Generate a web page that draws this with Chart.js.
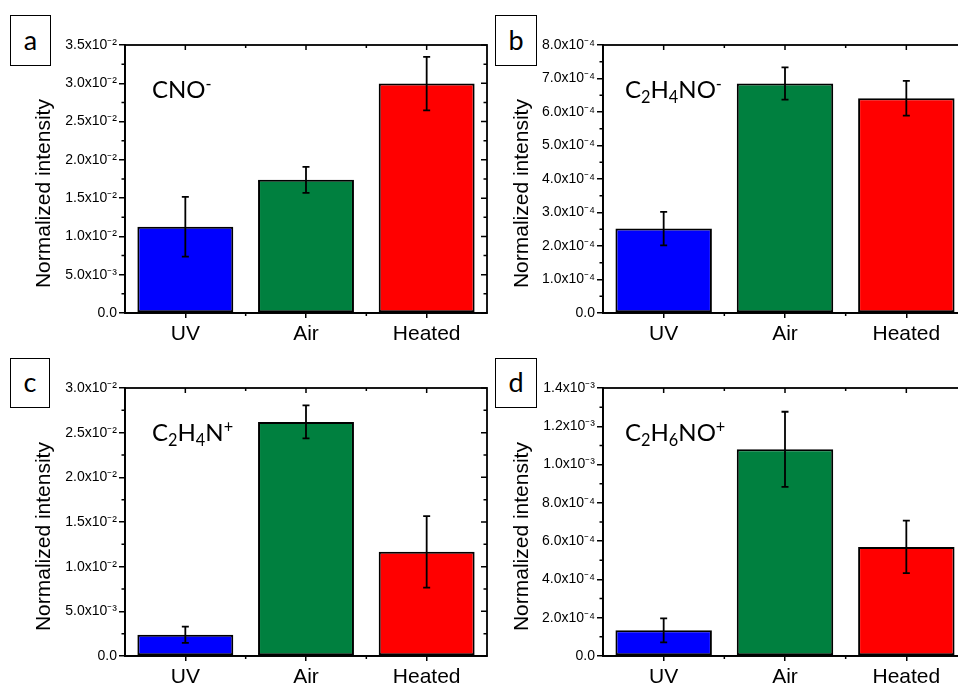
<!DOCTYPE html>
<html>
<head>
<meta charset="utf-8">
<script src="https://cdn.jsdelivr.net/npm/chart.js@4/dist/chart.umd.min.js"></script>
<style>
html,body{margin:0;padding:0;background:#fff;}
body{width:958px;height:685px;overflow:hidden;position:relative;}
canvas.pane{position:absolute;}
.letter{position:absolute;border:1.5px solid #000;box-sizing:border-box;background:#fff;
  font-family:Lato,"Open Sans",sans-serif;font-size:27px;color:#000;
  display:flex;align-items:center;justify-content:center;line-height:1;padding-bottom:3px;}
.species{position:absolute;font-family:Lato,"Open Sans",sans-serif;font-size:24px;line-height:24px;color:#000;white-space:nowrap;}
.species sub{font-size:0.68em;vertical-align:-0.28em;line-height:0;}
.species sup{font-size:0.68em;vertical-align:0.5em;line-height:0;}
</style>
</head>
<body>
<canvas id="ca" class="pane"></canvas>
<canvas id="cb" class="pane"></canvas>
<canvas id="cc" class="pane"></canvas>
<canvas id="cd" class="pane"></canvas>

<div class="letter" style="left:10px;top:15px;width:41px;height:51px;">a</div>
<div class="letter" style="left:495px;top:15px;width:42px;height:51px;">b</div>
<div class="letter" style="left:10px;top:358px;width:40px;height:50px;">c</div>
<div class="letter" style="left:495px;top:358px;width:42px;height:50px;">d</div>

<div class="species" style="left:152px;top:77px;">CNO<sup>-</sup></div>
<div class="species" style="left:625px;top:77px;">C<sub>2</sub>H<sub>4</sub>NO<sup>-</sup></div>
<div class="species" style="left:152px;top:420px;">C<sub>2</sub>H<sub>4</sub>N<sup>+</sup></div>
<div class="species" style="left:625px;top:420px;">C<sub>2</sub>H<sub>6</sub>NO<sup>+</sup></div>

<script>
// ---------- data ----------
const categories = ['UV', 'Air', 'Heated'];
const barColors = ['#0000FF', '#00803F', '#FF0000'];

const cnoValues = [0.01126, 0.01739, 0.02996];
const cnoErrors = [0.0039, 0.0017, 0.0035];
const cnoTicks = [0, 0.005, 0.010, 0.015, 0.020, 0.025, 0.030, 0.035];
const cnoTickLabels = ['0.0', '5.0x10⁻³', '1.0x10⁻²', '1.5x10⁻²', '2.0x10⁻²', '2.5x10⁻²', '3.0x10⁻²', '3.5x10⁻²'];

const c2h4noValues = [2.52e-4, 6.85e-4, 6.41e-4];
const c2h4noErrors = [0.50e-4, 0.48e-4, 0.52e-4];
const c2h4noTicks = [0, 1e-4, 2e-4, 3e-4, 4e-4, 5e-4, 6e-4, 7e-4, 8e-4];
const c2h4noTickLabels = ['0.0', '1.0x10⁻⁴', '2.0x10⁻⁴', '3.0x10⁻⁴', '4.0x10⁻⁴', '5.0x10⁻⁴', '6.0x10⁻⁴', '7.0x10⁻⁴', '8.0x10⁻⁴'];

const c2h4nValues = [0.00238, 0.0262, 0.01166];
const c2h4nErrors = [0.0009, 0.00185, 0.0040];
const c2h4nTicks = [0, 0.005, 0.010, 0.015, 0.020, 0.025, 0.030];
const c2h4nTickLabels = ['0.0', '5.0x10⁻³', '1.0x10⁻²', '1.5x10⁻²', '2.0x10⁻²', '2.5x10⁻²', '3.0x10⁻²'];

const c2h6noValues = [1.34e-4, 10.8e-4, 5.70e-4];
const c2h6noErrors = [0.63e-4, 1.96e-4, 1.37e-4];
const c2h6noTicks = [0, 2e-4, 4e-4, 6e-4, 8e-4, 10e-4, 12e-4, 14e-4];
const c2h6noTickLabels = ['0.0', '2.0x10⁻⁴', '4.0x10⁻⁴', '6.0x10⁻⁴', '8.0x10⁻⁴', '1.0x10⁻³', '1.2x10⁻³', '1.4x10⁻³'];

const yTitle = 'Normalized intensity';

// ---------- helpers ----------
const AXIS_W = 1.8;
const framePlugin = {
  id: 'frame',
  afterDatasetsDraw(chart, args, opts) {
    const {ctx, chartArea: a, scales: {x, y}} = chart;
    const ds = chart.data.datasets[0];
    const meta = chart.getDatasetMeta(0);
    ctx.save();
    ctx.strokeStyle = '#000';
    ctx.lineCap = 'butt';
    // error bars
    ctx.lineWidth = 1.8;
    meta.data.forEach((bar, i) => {
      const v = ds.data[i], e = opts.errors[i];
      const yt = y.getPixelForValue(v + e), yb = y.getPixelForValue(v - e);
      ctx.beginPath();
      ctx.moveTo(bar.x, yt); ctx.lineTo(bar.x, yb);
      ctx.moveTo(bar.x - 3.5, yt); ctx.lineTo(bar.x + 3.5, yt);
      ctx.moveTo(bar.x - 3.5, yb); ctx.lineTo(bar.x + 3.5, yb);
      ctx.stroke();
    });
    // frame
    ctx.lineWidth = AXIS_W;
    ctx.strokeRect(a.left, a.top, a.right - a.left, a.bottom - a.top);
    // ticks
    ctx.lineWidth = 1.5;
    ctx.beginPath();
    const yt = y.ticks.map(t => t.value);
    yt.forEach(v => { const p = y.getPixelForValue(v); ctx.moveTo(a.right, p); ctx.lineTo(a.right - 6, p); });
    for (let i = 0; i < yt.length - 1; i++) {
      const p = y.getPixelForValue((yt[i] + yt[i + 1]) / 2);
      ctx.moveTo(a.left, p); ctx.lineTo(a.left - 3.5, p);
      ctx.moveTo(a.right, p); ctx.lineTo(a.right - 3.5, p);
    }
    const n = chart.data.labels.length;
    for (let i = 0; i < n; i++) {
      const p = x.getPixelForValue(i);
      ctx.moveTo(p, a.top); ctx.lineTo(p, a.top + 5);
    }
    for (let i = 0; i < n - 1; i++) {
      const p = (x.getPixelForValue(i) + x.getPixelForValue(i + 1)) / 2;
      ctx.moveTo(p, a.top); ctx.lineTo(p, a.top + 3);
      ctx.moveTo(p, a.bottom); ctx.lineTo(p, a.bottom + 3);
    }
    ctx.stroke();
    ctx.restore();
  }
};

function makePanel(id, pos, area, values, errors, ticks, tickLabels) {
  const cv = document.getElementById(id);
  cv.style.left = pos.left + 'px';
  cv.style.top = pos.top + 'px';
  cv.style.width = pos.w + 'px';
  cv.style.height = pos.h + 'px';
  cv.width = pos.w; cv.height = pos.h;
  return new Chart(cv, {
    type: 'bar',
    data: {
      labels: categories,
      datasets: [{
        data: values,
        backgroundColor: barColors,
        borderColor: '#000',
        borderWidth: 2,
        borderSkipped: false,
        categoryPercentage: 1.0,
        barPercentage: 0.795
      }]
    },
    options: {
      responsive: false,
      animation: false,
      devicePixelRatio: 1,
      layout: { padding: { left: 0, top: area.top, right: pos.w - area.right, bottom: 0 } },
      plugins: {
        legend: { display: false },
        tooltip: { enabled: false },
        frame: { errors: errors }
      },
      scales: {
        x: {
          offset: true,
          grid: { offset: false, drawOnChartArea: false, drawTicks: true, tickLength: 5, color: '#000', lineWidth: 1.5 },
          border: { display: true, color: '#000', width: AXIS_W },
          ticks: { color: '#000', padding: 4, font: { family: '"Liberation Sans", Arial, sans-serif', size: 21 } },
          afterFit: s => { s.height = pos.h - area.bottom; }
        },
        y: {
          min: ticks[0],
          max: ticks[ticks.length - 1],
          afterBuildTicks: s => { s.ticks = ticks.map(v => ({ value: v })); },
          grid: { drawOnChartArea: false, drawTicks: true, tickLength: 6, color: '#000', lineWidth: 1.5 },
          border: { display: true, color: '#000', width: AXIS_W },
          ticks: {
            color: '#000', padding: 2,
            font: { family: '"Liberation Sans", Arial, sans-serif', size: 14 },
            callback: (v, i) => tickLabels[i]
          },
          title: {
            display: true,
            text: yTitle + '\u00A0\u00A0\u00A0\u00A0\u00A0',
            color: '#000',
            font: { family: '"Liberation Sans", Arial, sans-serif', size: 21 },
            padding: { top: 32, bottom: 0 }
          },
          afterFit: s => { s.width = area.left; }
        }
      }
    },
    plugins: [framePlugin]
  });
}

makePanel('ca', { left: 0, top: 0, w: 500, h: 345 }, { left: 125, top: 45, right: 487, bottom: 313 },
  cnoValues, cnoErrors, cnoTicks, cnoTickLabels);
makePanel('cb', { left: 478, top: 0, w: 500, h: 345 }, { left: 125, top: 45, right: 489, bottom: 313 },
  c2h4noValues, c2h4noErrors, c2h4noTicks, c2h4noTickLabels);
makePanel('cc', { left: 0, top: 340, w: 500, h: 345 }, { left: 125, top: 48, right: 487, bottom: 316 },
  c2h4nValues, c2h4nErrors, c2h4nTicks, c2h4nTickLabels);
makePanel('cd', { left: 478, top: 340, w: 500, h: 345 }, { left: 125, top: 48, right: 489, bottom: 316 },
  c2h6noValues, c2h6noErrors, c2h6noTicks, c2h6noTickLabels);
</script>
</body>
</html>
